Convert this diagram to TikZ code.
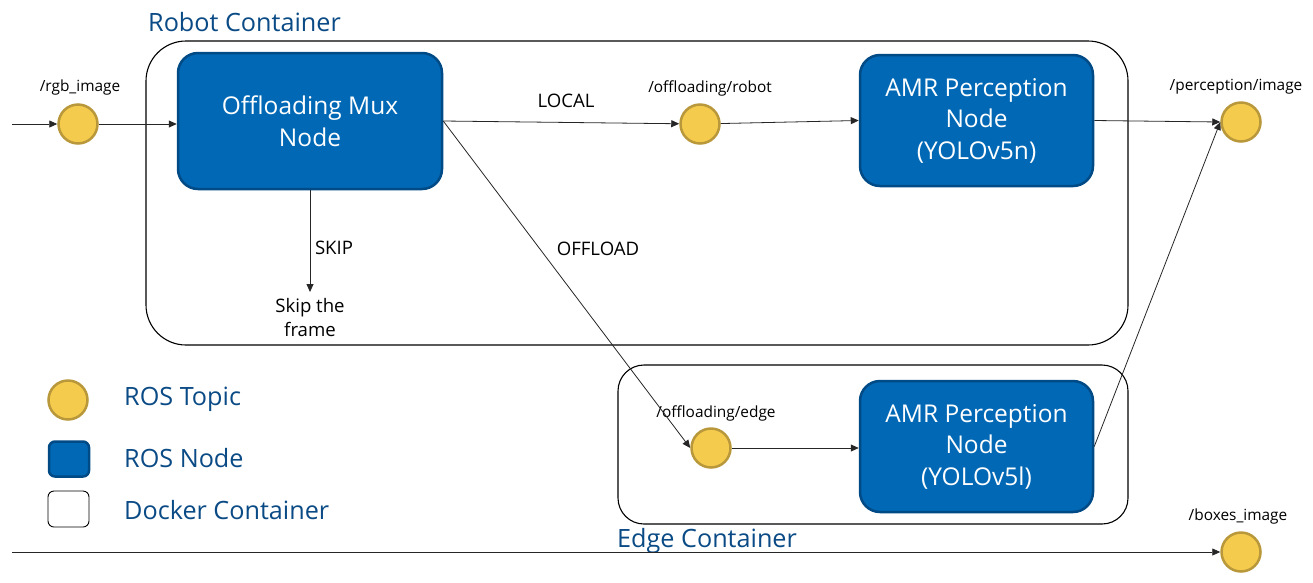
\documentclass[tikz,border=0pt]{standalone}
\usepackage{fontspec}
\setmainfont{Open Sans}
\usetikzlibrary{arrows.meta}
\definecolor{nodeblue}{HTML}{0068B5}
\definecolor{nodeedge}{HTML}{004A86}
\definecolor{topicfill}{HTML}{F5CB4D}
\definecolor{topicedge}{HTML}{B8983A}
\definecolor{titleblue}{HTML}{0A4A85}
\tikzset{
  rosnode/.style={draw=nodeedge, line width=2.5pt, fill=nodeblue, rounded corners=20pt,
    text=white, align=center, font=\fontsize{24.5}{31.5}\selectfont, inner sep=0pt},
  topic/.style={circle, draw=topicedge, line width=2.5pt, fill=topicfill, minimum size=39pt, inner sep=0pt},
  toplabel/.style={font=\fontsize{15.4}{17}\selectfont, text=black, inner sep=0pt},
  edgelabel/.style={font=\fontsize{18.6}{24}\selectfont, text=black, inner sep=0pt, align=center},
  title/.style={font=\fontsize{25.2}{28}\selectfont, text=titleblue, inner sep=0pt, anchor=west},
  container/.style={draw=black, line width=1.1pt},
  conn/.style={draw=black!85, line width=0.8pt, -{Triangle[length=8pt,width=7pt]}}
}
\begin{document}
\begin{tikzpicture}[x=1pt,y=-1pt]
\useasboundingbox (0,0) rectangle (1313,582);
% containers
\draw[container, rounded corners=40pt] (146,41) rectangle (1128,345);
\draw[container, rounded corners=26pt] (618,365) rectangle (1128,524);
\node[title] (robotc) at (148,22) {Robot Container};
\node[title] (edgec) at (617,541) {Edge Container};
% ROS nodes
\node[rosnode, minimum width=264pt, minimum height=136pt] (mux) at (310,121) {Offloading Mux\\Node};
\node[rosnode, minimum width=233pt, minimum height=131pt] (amr1) at (976.5,120.5) {AMR Perception\\Node\\(YOLOv5n)};
\node[rosnode, minimum width=233pt, minimum height=131pt] (amr2) at (976.5,446.5) {AMR Perception\\Node\\(YOLOv5l)};
% topics
\node[topic] (rgb) at (78,124) {};
\node[topic] (robot) at (700,124) {};
\node[topic] (pers) at (1241,122) {};
\node[topic] (edge) at (711,448) {};
\node[topic] (boxes) at (1241,552) {};
\node[toplabel] (rgbl) at (80,87) {/rgb\_image};
\node[toplabel] (robotl) at (710,88) {/offloading/robot};
\node[toplabel] (persl) at (1236,87) {/perception/image};
\node[toplabel] (edgel) at (716,413) {/offloading/edge};
\node[toplabel] (boxesl) at (1238,516) {/boxes\_image};
% free ends
\coordinate (in) at (12,124);
\coordinate (inb) at (12,552);
\coordinate (skipend) at (310,292);
% connectors
\draw[conn] (in) -- (rgb);
\draw[conn] (rgb) -- (mux.west |- rgb);
\draw[conn] (mux.east) -- (robot);
\draw[conn] (robot) -- (amr1.west);
\draw[conn] (amr1.east) -- (pers.west);
\draw[conn] (mux.south) -- (skipend);
\draw[conn] (mux.east) -- (edge.west);
\draw[conn] (edge) -- (amr2.west |- edge);
\draw[conn] (amr2.east) -- (pers.west);
\draw[conn] (inb) -- (boxes);
% edge labels
\node[edgelabel] (local) at (566,101) {LOCAL};
\node[edgelabel] (offload) at (598,249) {OFFLOAD};
\node[edgelabel] (skip) at (334,248) {SKIP};
\node[edgelabel] (skipf) at (310,318) {Skip the\\frame};
% legend
\node[topic] (lgt) at (68,400) {};
\node[draw=nodeedge, line width=2.5pt, fill=nodeblue, rounded corners=6pt, minimum width=40pt, minimum height=35pt, inner sep=0pt] (lgn) at (69,459) {};
\node[draw=black, line width=0.9pt, rounded corners=6pt, minimum width=41pt, minimum height=36pt, inner sep=0pt] (lgc) at (68.5,509) {};
\node[title] (lgtl) at (124,399) {ROS Topic};
\node[title] (lgnl) at (124,458) {ROS Node};
\node[title] (lgcl) at (124,510) {Docker Container};
\end{tikzpicture}
\end{document}
